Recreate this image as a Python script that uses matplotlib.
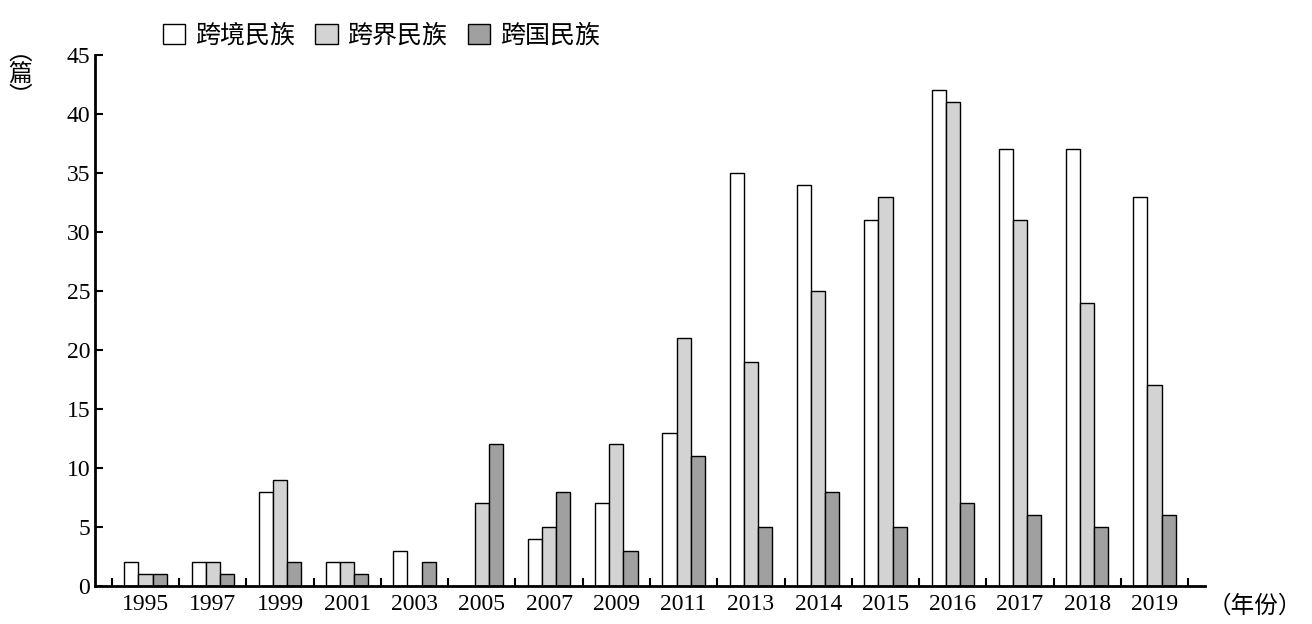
import matplotlib
matplotlib.use("Agg")
import matplotlib.pyplot as plt
import numpy as np

plt.rcParams['font.family'] = ['Noto Sans CJK SC', 'DejaVu Sans']

years = ['1995','1997','1999','2001','2003','2005','2007','2009','2011','2013','2014','2015','2016','2017','2018','2019']
kuajing = [2,2,8,2,3,0,4,7,13,35,34,31,42,37,37,33]
kuajie = [1,2,9,2,0,7,5,12,21,19,25,33,41,31,24,17]
kuaguo = [1,1,2,1,2,12,8,3,11,5,8,5,7,6,5,6]
names = ['跨境民族','跨界民族','跨国民族']
colors = ['white','#d3d3d3','#a0a0a0']

fig = plt.figure(figsize=(13.12,6.24), dpi=100)
ax = fig.add_axes([95/1312, 38/624, 1110/1312, 531/624])
x = np.arange(len(years))
w = 0.21
for i,(vals,c,n) in enumerate(zip([kuajing,kuajie,kuaguo],colors,names)):
    ax.bar(x+(i-1)*w, vals, w, color=c, edgecolor='black', linewidth=1, label=n)
ax.set_xlim(-0.75, len(years)-0.25)
ax.set_ylim(0,45)
ax.set_yticks(range(0,46,5))
ax.set_xticks(x)
ax.set_xticklabels(years, fontsize=17, family=['Liberation Serif','DejaVu Serif'])
ax.set_xticks(np.arange(-0.5,len(years),1), minor=True)
ax.tick_params(axis='x', which='major', length=0, pad=6)
ax.tick_params(axis='x', which='minor', direction='in', length=6, width=1.5)
ax.tick_params(axis='y', direction='in', length=6, width=1.5, labelsize=17)
for lab in ax.get_yticklabels():
    lab.set_family(['Liberation Serif','DejaVu Serif'])
for s in ['top','right']:
    ax.spines[s].set_visible(False)
for s in ['left','bottom']:
    ax.spines[s].set_linewidth(2)
fig.text(1208/1312, 1-606/624, '（年份）', fontsize=17, va='center', ha='left')
fig.text(20/1312, 1-75/624, '︵\n篇\n︶', fontsize=17, va='center', ha='center', linespacing=0.9)
fig.legend(loc='upper left', bbox_to_anchor=(140/1312, 1.0), ncol=3, frameon=False,
           fontsize=18, handlelength=0.9, handleheight=0.9, columnspacing=0.8, handletextpad=0.4)
fig.savefig('out.png', dpi=100)
